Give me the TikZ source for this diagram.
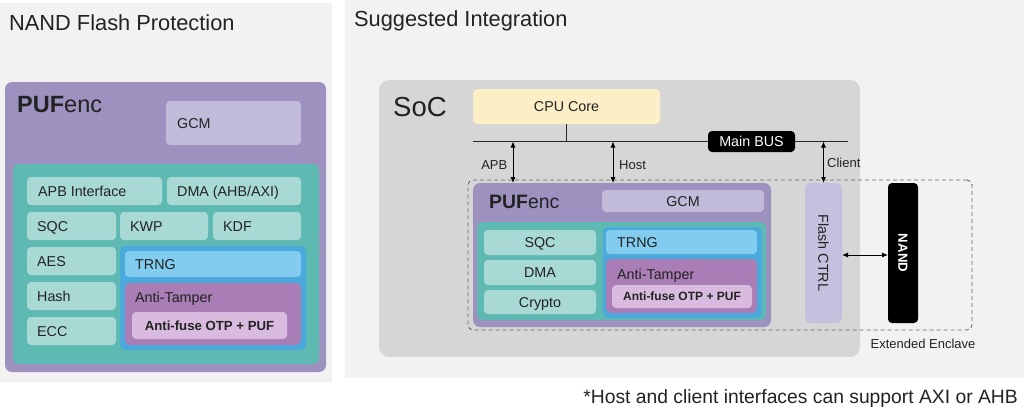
\documentclass[tikz,border=0pt]{standalone}
\usepackage{fontspec}
\setmainfont{Liberation Sans}
\usetikzlibrary{arrows.meta}
\definecolor{panelc}{HTML}{F2F2F2}
\definecolor{purc}{HTML}{9D91C0}
\definecolor{gcmc}{HTML}{C2BAD9}
\definecolor{tealc}{HTML}{5FB9B3}
\definecolor{ltealc}{HTML}{A9D9D5}
\definecolor{bluc}{HTML}{4BA9DC}
\definecolor{trngc}{HTML}{82CCF0}
\definecolor{atc}{HTML}{A97DB5}
\definecolor{afc}{HTML}{D8BBDF}
\definecolor{socc}{HTML}{D6D6D6}
\definecolor{cpuc}{HTML}{FCEFC7}
\definecolor{fcc}{HTML}{C6C0DF}
\definecolor{txtc}{HTML}{222222}
\newcommand\bx[6]{%
  \pgfmathsetmacro\bxw{#5-#3}\pgfmathsetmacro\bxh{#6-#4}%
  \node[#1, anchor=north west, minimum width=\bxw pt, minimum height=\bxh pt] (#2) at (#3,#4) {};}
\newcommand\ltx[4]{\node[#1, anchor=west] (#2-t) at ([xshift=#3pt]#2.west) {#4};}
\newcommand\ctx[3]{\node[#1] (#2-t) at (#2.center) {#3};}
\begin{document}
\begin{tikzpicture}[x=1pt,y=-1pt,
  base/.style={inner sep=0pt, outer sep=0pt},
  panel/.style={base, fill=panelc},
  pur/.style={base, fill=purc, rounded corners=7pt},
  gcm/.style={base, fill=gcmc, rounded corners=4pt},
  teal/.style={base, fill=tealc, rounded corners=6pt},
  lteal/.style={base, fill=ltealc, rounded corners=4pt},
  blu/.style={base, fill=bluc, rounded corners=5pt},
  trng/.style={base, fill=trngc, rounded corners=4pt},
  atb/.style={base, fill=atc, rounded corners=5pt},
  afb/.style={base, fill=afc, rounded corners=4pt},
  soc/.style={base, fill=socc, rounded corners=10pt},
  cpu/.style={base, fill=cpuc, rounded corners=4pt},
  blk/.style={base, fill=black, rounded corners=4pt},
  fcb/.style={base, fill=fcc, rounded corners=6pt},
  encl/.style={base, draw=black!60, line width=0.9pt, dash pattern=on 4pt off 3pt, rounded corners=5pt},
  t14/.style={inner sep=0pt, text=txtc, font=\fontsize{14.3}{16}\selectfont, text height=10.2pt, text depth=0pt},
  t13/.style={inner sep=0pt, text=txtc, font=\fontsize{13.2}{15}\selectfont, text height=9.4pt, text depth=0pt},
  tb13/.style={inner sep=0pt, text=txtc, font=\bfseries\fontsize{13.2}{15}\selectfont, text height=9.4pt, text depth=0pt},
  tb12/.style={inner sep=0pt, text=txtc, font=\bfseries\fontsize{12}{14}\selectfont, text height=8.6pt, text depth=0pt},
  ttl/.style={inner sep=0pt, text=txtc, font=\fontsize{21.8}{24}\selectfont},
  lbl/.style={inner sep=0pt, text=txtc, font=\fontsize{13}{15}\selectfont, text height=9.3pt, text depth=0pt},
  arr/.style={line width=0.9pt, {Latex[length=6pt,width=5pt]}-{Latex[length=6pt,width=5pt]}},
  wire/.style={line width=1pt, draw=black!85}
]
\useasboundingbox (0,0) rectangle (1024,410);
\fill[white] (0,0) rectangle (1024,410);
% ---------------- left panel
\bx{panel}{panelL}{0}{3}{332}{382}
\node[ttl, anchor=base west] (titleL) at (9,30) {NAND Flash Protection};
\bx{pur}{pufL}{5}{82}{326}{372}
\node[inner sep=0pt, text=txtc, font=\fontsize{23.5}{26}\selectfont, anchor=base west] (pufL-t) at (17,112) {\textbf{PUF}enc};
\bx{gcm}{gcmL}{166}{101}{301}{145}
\ltx{t14}{gcmL}{11}{GCM}
\bx{teal}{tealL}{13}{164}{319}{364}
\bx{lteal}{apbL}{27}{177}{162}{205}
\ltx{t14}{apbL}{11}{APB Interface}
\bx{lteal}{dmaL}{167}{177}{301}{205}
\ltx{t14}{dmaL}{10}{DMA (AHB/AXI)}
\bx{lteal}{sqcL}{27}{212}{116}{240}
\ltx{t14}{sqcL}{10}{SQC}
\bx{lteal}{kwpL}{120}{212}{208}{240}
\ltx{t14}{kwpL}{10}{KWP}
\bx{lteal}{kdfL}{213}{212}{301}{240}
\ltx{t14}{kdfL}{10}{KDF}
\bx{lteal}{aesL}{27}{247}{116}{275}
\ltx{t14}{aesL}{10}{AES}
\bx{lteal}{hashL}{27}{282}{116}{310}
\ltx{t14}{hashL}{10}{Hash}
\bx{lteal}{eccL}{27}{317}{116}{345}
\ltx{t14}{eccL}{10}{ECC}
\bx{blu}{bluL}{120}{246}{306}{350}
\bx{trng}{trngL}{125}{251}{301}{277}
\ltx{t14}{trngL}{10}{TRNG}
\bx{atb}{atL}{125}{283}{301}{345}
\node[t14, anchor=west] (atL-t) at (135,297) {Anti-Tamper};
\bx{afb}{afL}{132}{312}{287}{339}
\ctx{tb13}{afL}{Anti-fuse OTP + PUF}
% ---------------- right panel
\bx{panel}{panelR}{345}{0}{1024}{378}
\node[ttl, anchor=base west] (titleR) at (354,26) {Suggested Integration};
\bx{soc}{soc}{379}{80}{860}{357}
\node[inner sep=0pt, text=txtc, font=\fontsize{27.5}{30}\selectfont, anchor=base west] (soc-t) at (393,116) {SoC};
\bx{cpu}{cpu}{473}{89}{660}{124}
\ctx{t14}{cpu}{CPU Core}
\coordinate (busL) at (473,141.5);
\coordinate (busR) at (848,141.5);
\draw[wire] (busL) -- (busR);
\draw[wire] (cpu.south) -- (cpu.south |- busL);
\bx{blk}{mbus}{708}{131}{795}{152}
\node[t14, text=white] (mbus-t) at (mbus.center) {Main BUS};
\bx{encl}{encl}{468}{180}{972}{330}
\node[lbl, anchor=center] (encl-t) at (923,344) {Extended Enclave};
\bx{pur}{pufR}{473}{183}{771}{327}
\node[inner sep=0pt, text=txtc, font=\fontsize{19.4}{22}\selectfont, anchor=base west] (pufR-t) at (489,208) {\textbf{PUF}enc};
\bx{gcm}{gcmR}{602}{190}{764}{212}
\ctx{t14}{gcmR}{GCM}
\bx{teal}{tealR}{477}{222}{766}{320}
\bx{lteal}{sqcR}{484}{230}{596}{255}
\ctx{t14}{sqcR}{SQC}
\bx{lteal}{dmaR}{484}{260}{596}{285}
\ctx{t14}{dmaR}{DMA}
\bx{lteal}{cryR}{484}{290}{596}{314}
\ctx{t14}{cryR}{Crypto}
\bx{blu}{bluR}{603}{227}{762}{318}
\bx{trng}{trngR}{606}{230}{757}{254}
\ltx{t14}{trngR}{11}{TRNG}
\bx{atb}{atR}{606}{259}{757}{313}
\node[t14, anchor=west] (atR-t) at (617,274) {Anti-Tamper};
\bx{afb}{afR}{612}{285}{752}{308}
\ctx{tb12}{afR}{Anti-fuse OTP + PUF}
\bx{fcb}{fc}{805}{183}{842}{323}
\node[t14, rotate=-90] (fc-t) at (fc.center) {Flash CTRL};
\bx{blk}{nand}{888}{183}{918}{323}
\node[tb13, text=white, rotate=-90] (nand-t) at (nand.center) {NAND};
% connectors
\coordinate (apbTop) at (513,141.5);
\coordinate (hostTop) at (613,141.5);
\coordinate (cliTop) at (823.5,141.5);
\draw[arr] (apbTop) -- (apbTop |- pufR.north);
\draw[arr] (hostTop) -- (hostTop |- pufR.north);
\draw[arr] (cliTop) -- (fc.north);
\draw[arr] ([yshift=-2pt]fc.east) -- ([yshift=-2pt]nand.west);
\node[lbl, anchor=east] (apb-l) at (507.5,165) {APB};
\node[lbl, anchor=west] (host-l) at (619,165) {Host};
\node[lbl, anchor=west] (cli-l) at (827,163) {Client};
\node[inner sep=0pt, text=txtc, font=\fontsize{19.3}{22}\selectfont, text height=13.8pt, text depth=0pt, anchor=east] (foot) at (1018,396.5) {*Host and client interfaces can support AXI or AHB};
\end{tikzpicture}
\end{document}
